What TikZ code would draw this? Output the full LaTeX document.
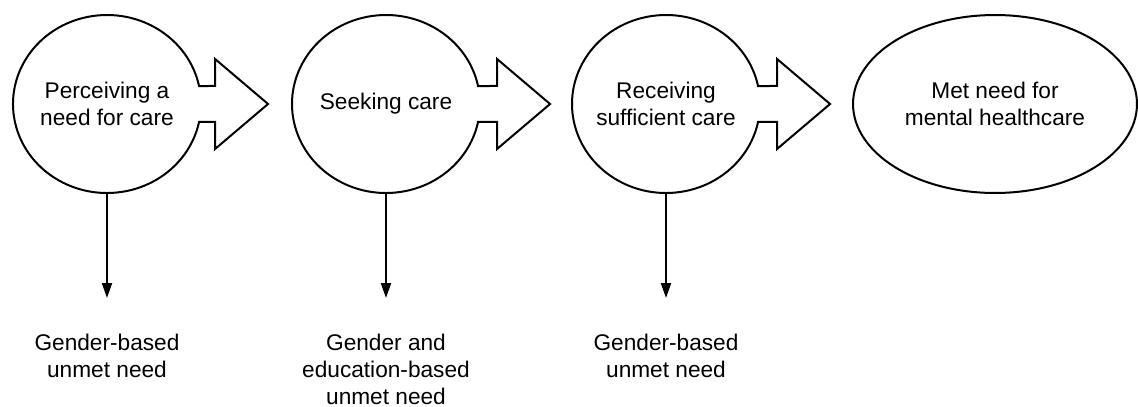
\documentclass[tikz,border=0pt]{standalone}
\usepackage{fontspec}
\setmainfont{Liberation Sans}
\usetikzlibrary{arrows.meta,shapes.geometric}
\tikzset{
    stage/.style={ellipse, minimum width=3.76cm, minimum height=3.56cm, inner sep=0pt, outer sep=0pt, align=center},
    gap/.style={anchor=north, inner sep=0pt, align=center},
    outline/.style={line width=0.04cm, line join=miter},
    down/.style={line width=0.04cm, -{Triangle[length=0.3cm,width=0.2cm]}, shorten >=0.72cm}
}
\begin{document}
\begin{tikzpicture}[x=0.02cm, y=0.02cm, every node/.style={font=\fontsize{12.9}{15.35}\selectfont}]
    \useasboundingbox (0,0) rectangle (1138,-406);

    \node[stage] (perc) at (107,-104) {Perceiving a\\need for care};
    \node[stage] (seek) at (386,-104) {Seeking care};
    \node[stage] (recv) at (666,-104) {Receiving\\sufficient care};
    \node[stage, draw, outline, minimum width=5.68cm] (met) at (995,-104) {Met need for\\mental healthcare};

    \draw[outline] (perc.center) ++(11.66:94 and 89) arc[start angle=11.66, end angle=348.34, x radius=94, y radius=89]
        -- ++(16,0) -- ++(0,-27) -- ++(53,45) -- ++(-53,45) -- ++(0,-27) -- cycle;
    \draw[outline] (seek.center) ++(11.66:94 and 89) arc[start angle=11.66, end angle=348.34, x radius=94, y radius=89]
        -- ++(19,0) -- ++(0,-27) -- ++(53,45) -- ++(-53,45) -- ++(0,-27) -- cycle;
    \draw[outline] (recv.center) ++(11.66:94 and 89) arc[start angle=11.66, end angle=348.34, x radius=94, y radius=89]
        -- ++(19,0) -- ++(0,-27) -- ++(53,45) -- ++(-53,45) -- ++(0,-27) -- cycle;

    \node[gap] (unmetA) at (107,-334) {Gender-based\\unmet need};
    \node[gap] (unmetB) at (386,-334) {Gender and\\education-based\\unmet need};
    \node[gap] (unmetC) at (666,-334) {Gender-based\\unmet need};

    \draw[down] (perc.south) -- (unmetA.north);
    \draw[down] (seek.south) -- (unmetB.north);
    \draw[down] (recv.south) -- (unmetC.north);
\end{tikzpicture}
\end{document}
